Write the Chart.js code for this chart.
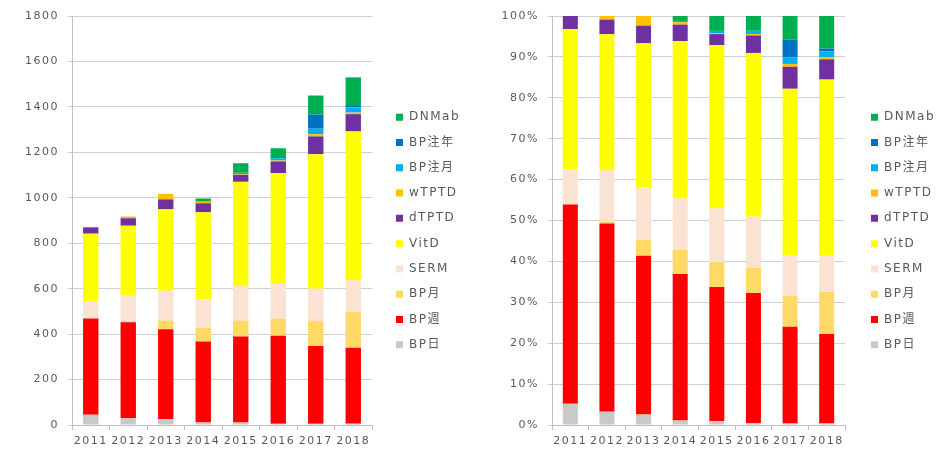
<!DOCTYPE html>
<html>
<head>
<meta charset="utf-8">
<script src="https://cdn.jsdelivr.net/npm/chart.js@4.4.1/dist/chart.umd.min.js"></script>
<style>
  html, body { margin: 0; padding: 0; background: #fff; }
  #wrap { position: relative; width: 945px; height: 468px; }
  .box { position: absolute; top: 0; height: 468px; }
  #leftBox { left: 0; width: 475px; }
  #rightBox { left: 475px; width: 470px; }
</style>
</head>
<body>
<div id="wrap">
  <div class="box" id="leftBox"><canvas id="countChart"></canvas></div>
  <div class="box" id="rightBox"><canvas id="shareChart"></canvas></div>
</div>
<script>
// categories
const years = ["2011", "2012", "2013", "2014", "2015", "2016", "2017", "2018"];

// series, bottom of the stack first
const seriesNames = ["BP日", "BP週", "BP月", "SERM", "VitD", "dTPTD", "wTPTD", "BP注月", "BP注年", "DNMab"];
const bpDaily      = [45, 30, 26, 11, 11, 5, 5, 6];
const bpWeekly     = [424, 422, 395, 357, 378, 388, 343, 334];
const bpMonthly    = [0, 5, 39, 59, 70, 75, 110, 158];
const serm         = [75, 115, 131, 125, 151, 152, 142, 138];
const vitD         = [298, 305, 358, 384, 460, 488, 592, 656];
const dTPTD        = [28, 33, 44, 40, 31, 52, 78, 76];
const wTPTD        = [0, 8, 24, 6, 3, 4, 10, 7];
const bpInjMonthly = [0, 0, 0, 3, 6, 10, 24, 23];
const bpInjYearly  = [0, 0, 0, 0, 0, 0, 62, 10];
const dnmab        = [0, 0, 0, 12, 42, 44, 84, 122];

// axis ticks
const countMax = 1800, countStep = 200;
const shareMax = 100, shareStep = 10;

const seriesData = [bpDaily, bpWeekly, bpMonthly, serm, vitD, dTPTD, wTPTD, bpInjMonthly, bpInjYearly, dnmab];
const seriesColors = ["#c9c9c9", "#ff0000", "#ffd966", "#fbe3d4", "#ffff00", "#7030a0", "#ffc000", "#00b0f0", "#0070c0", "#00b050"];

const totals = years.map((_, i) => seriesData.reduce((s, arr) => s + arr[i], 0));
const shareData = seriesData.map(arr => arr.map((v, i) => v / totals[i] * 100));

const textColor = "#595959";
const fontFamily = "'DejaVu Sans', 'Noto Sans CJK JP', sans-serif";

// wide Excel-like lettering
const spacing = {
    id: "spacing",
    beforeUpdate(chart) { chart.ctx.letterSpacing = "1.5px"; },
    beforeDraw(chart) { chart.ctx.letterSpacing = "1.5px"; }
};

// put the legend boxes at a fixed x
const legendShift = {
    id: "legendShift",
    afterLayout(chart, args, opts) {
        const lg = chart.legend;
        const dx = opts.boxX - (lg.left + lg.options.labels.padding);
        lg.left += dx;
        lg.right += dx;
    }
};

function makeChart(id, data, yMax, yStep, yFmt, axisWidth, plotRight, legendX) {
    const datasets = data.map((arr, k) => ({
        label: seriesNames[k],
        data: arr,
        backgroundColor: seriesColors[k],
        borderWidth: 0,
        barPercentage: 0.41,
        categoryPercentage: 1
    }));

    const chart = new Chart(document.getElementById(id), {
        type: "bar",
        data: { labels: years, datasets },
        plugins: [spacing, legendShift],
        options: {
            responsive: true,
            maintainAspectRatio: false,
            animation: false,
            layout: { padding: { left: 0, right: 60, top: 16, bottom: 22 } },
            plugins: {
                tooltip: { enabled: false },
                legendShift: { boxX: legendX },
                legend: {
                    position: "right",
                    reverse: true,
                    labels: {
                        boxWidth: 7,
                        boxHeight: 7,
                        padding: 13.3,
                        color: textColor,
                        font: { family: fontFamily, size: 12 }
                    }
                }
            },
            scales: {
                x: {
                    stacked: true,
                    offset: true,
                    grid: { offset: true, drawOnChartArea: false, drawTicks: true, tickLength: 5, color: "#bfbfbf" },
                    border: { color: "#bfbfbf" },
                    ticks: { color: textColor, padding: 5, autoSkip: false, maxRotation: 0, font: { family: fontFamily, size: 11 } },
                    afterFit: s => { s.height = 21; }
                },
                y: {
                    stacked: true,
                    min: 0,
                    max: yMax,
                    grid: { color: "#d0d0d0", tickLength: 4 },
                    border: { color: "#bfbfbf" },
                    ticks: { stepSize: yStep, color: textColor, padding: 9, callback: yFmt, font: { family: fontFamily, size: 11 } },
                    afterFit: s => { s.width = axisWidth; }
                }
            }
        }
    });

    const d = chart.chartArea.right - plotRight;
    if (Math.abs(d) > 0.5) {
        chart.config.options.layout.padding.right += d;
        chart.update();
    }
    return chart;
}

makeChart("countChart", seriesData, countMax, countStep, v => String(v), 72, 372, 396);
makeChart("shareChart", shareData, shareMax, shareStep, v => v + "%", 77, 370, 396);
</script>
</body>
</html>
